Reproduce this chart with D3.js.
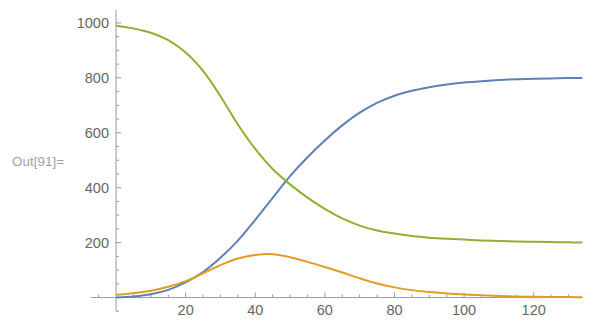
<!DOCTYPE html>
<html>
<head>
<meta charset="utf-8">
<script src="https://cdn.jsdelivr.net/npm/d3@7"></script>
<style>
  body { margin: 0; background: #fff; }
  svg { display: block; font-family: "Liberation Sans", Arial, sans-serif; }
</style>
</head>
<body>
<div id="chart"></div>
<script>
// ============================================
// DATA
// ============================================

const times = [0, 5, 10, 15, 20, 25, 30, 35, 40, 45, 50, 55, 60, 65, 70, 75, 80, 85, 90, 95, 100, 105, 110, 115, 120, 125, 130, 134];

// green
const susceptible = [990, 980, 964, 937, 892, 825, 733, 630, 541, 468, 412, 364, 323, 288, 262, 244, 233, 224, 218, 214, 211, 208, 206, 204, 203, 202, 201, 200];
// orange
const infected = [10, 16, 25, 39, 60, 88, 118, 142, 155, 158, 147, 130, 111, 91, 70, 51, 37, 27, 20, 15, 11, 8, 6, 4, 3, 2, 2, 1];
// blue
const recovered = [0, 4, 12, 28, 55, 93, 145, 207, 283, 363, 442, 511, 572, 627, 673, 709, 735, 753, 766, 776, 783, 788, 792, 795, 797, 798, 799, 799];

const xTickLabels = [20, 40, 60, 80, 100, 120];
const yTickLabels = [200, 400, 600, 800, 1000];

const COLORS = {
  recovered: "#5e81b5",
  infected: "#e19c24",
  susceptible: "#8fb032",
};

// ============================================
// SETUP
// ============================================

const width = 600;
const height = 322;

const svg = d3
  .select("#chart")
  .append("svg")
  .attr("width", width)
  .attr("height", height);

const x = d3.scaleLinear().domain([-7.2, 133.6]).range([91, 581]);
const y = d3.scaleLinear().domain([-49, 1047]).range([311, 10]);

const axisColor = "#9a9a9a";
const labelColor = "#666666";

// ============================================
// AXES
// ============================================

// x axis line
svg.append("line")
  .attr("x1", x.range()[0]).attr("x2", x.range()[1])
  .attr("y1", y(0)).attr("y2", y(0))
  .attr("stroke", axisColor).attr("stroke-width", 1);

// y axis line
svg.append("line")
  .attr("x1", x(0)).attr("x2", x(0))
  .attr("y1", y.range()[0]).attr("y2", y.range()[1])
  .attr("stroke", axisColor).attr("stroke-width", 1);

// x ticks every 5, major every 20
d3.range(-5, 134, 5).forEach((t) => {
  if (t === 0) return;
  const major = t % 20 === 0;
  svg.append("line")
    .attr("x1", x(t)).attr("x2", x(t))
    .attr("y1", y(0)).attr("y2", y(0) - (major ? 5 : 3))
    .attr("stroke", axisColor);
});

// y ticks every 50, major every 200
d3.range(-50, 1046, 50).forEach((v) => {
  if (v === 0) return;
  const major = v % 200 === 0;
  svg.append("line")
    .attr("x1", x(0)).attr("x2", x(0) + (major ? 5 : 3))
    .attr("y1", y(v)).attr("y2", y(v))
    .attr("stroke", axisColor);
});

svg.selectAll(".xlabel")
  .data(xTickLabels)
  .join("text")
  .attr("class", "xlabel")
  .attr("x", (d) => x(d))
  .attr("y", 315)
  .attr("text-anchor", "middle")
  .attr("font-size", 14.5)
  .attr("fill", labelColor)
  .text((d) => d);

svg.selectAll(".ylabel")
  .data(yTickLabels)
  .join("text")
  .attr("class", "ylabel")
  .attr("x", 109)
  .attr("y", (d) => y(d) + 5)
  .attr("text-anchor", "end")
  .attr("font-size", 14.5)
  .attr("fill", labelColor)
  .text((d) => d);

svg.append("text")
  .attr("x", 12)
  .attr("y", 166)
  .attr("font-size", 13.5)
  .attr("fill", "#a3a3a3")
  .text("Out[91]=");

// ============================================
// CURVES
// ============================================

const line = d3
  .line()
  .x((d) => x(d[0]))
  .y((d) => y(d[1]))
  .curve(d3.curveCatmullRom.alpha(0.5));

const series = [
  { values: recovered, color: COLORS.recovered },
  { values: infected, color: COLORS.infected },
  { values: susceptible, color: COLORS.susceptible },
];

series.forEach((s) => {
  svg.append("path")
    .datum(times.map((t, i) => [t, s.values[i]]))
    .attr("fill", "none")
    .attr("stroke", s.color)
    .attr("stroke-width", 2)
    .attr("d", line);
});
</script>
</body>
</html>
